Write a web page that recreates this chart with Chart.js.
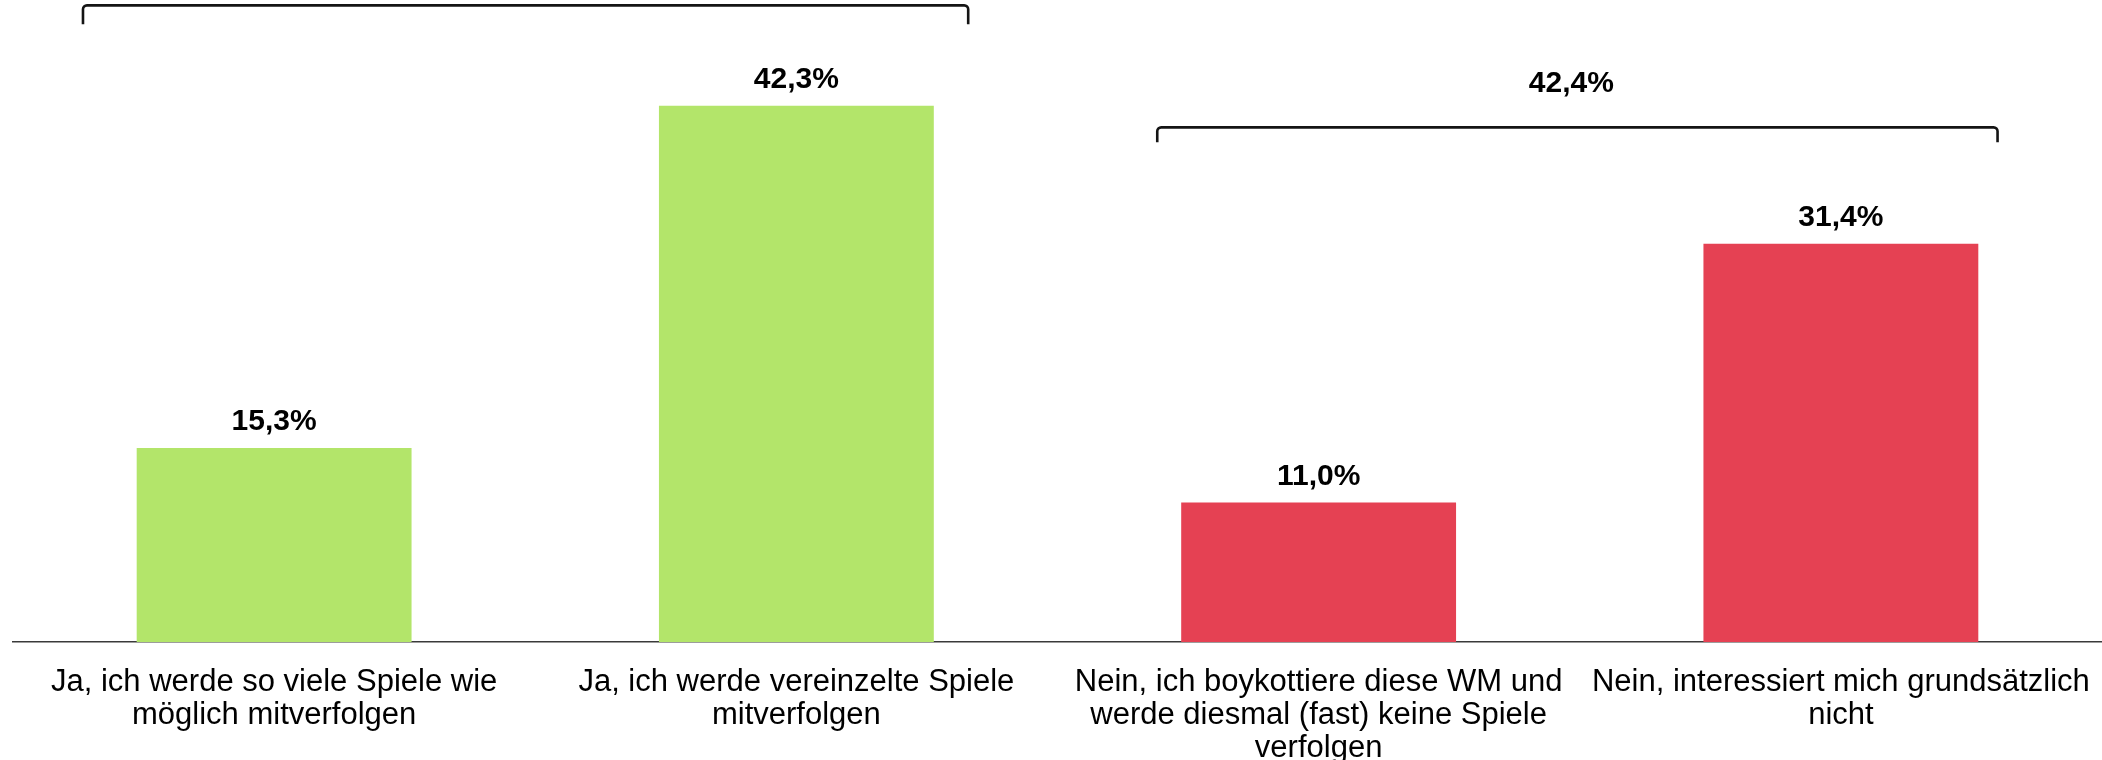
<!DOCTYPE html>
<html>
<head>
<meta charset="utf-8">
<script src="https://cdn.jsdelivr.net/npm/chart.js@4/dist/chart.umd.min.js"></script>
<style>
  html, body { margin: 0; padding: 0; background: #ffffff; overflow: hidden; }
  canvas { display: block; }
</style>
</head>
<body>
<canvas id="c" width="2102" height="760" style="width:2102px;height:760px"></canvas>
<script>
// ---- data ----
const categories = [
  ["Ja, ich werde so viele Spiele wie", "möglich mitverfolgen"],
  ["Ja, ich werde vereinzelte Spiele", "mitverfolgen"],
  ["Nein, ich boykottiere diese WM und", "werde diesmal (fast) keine Spiele", "verfolgen"],
  ["Nein, interessiert mich grundsätzlich", "nicht"]
];
const values = [15.3, 42.3, 11.0, 31.4];
const groupStart = [0, 2];
const groupEnd = [1, 3];

// ---- styles ----
const GREEN = '#B3E56A';
const RED = '#E54153';
const barColors = [GREEN, GREEN, RED, RED];
const FONT = '"Liberation Sans", Arial, Helvetica, sans-serif';
const bracketStyle = {
  leftFrac: [-0.366, -0.309],
  rightFrac: [0.329, 0.300],
  liftPx: [100.3, 116.5],
  tickPx: [19, 15],
  labelLiftPx: 43.5,
  labelDx: -6
};

function fmt(v) { return v.toFixed(1).replace('.', ',') + '%'; }

const overlay = {
  id: 'overlay',
  afterDatasetsDraw(chart) {
    const ctx = chart.ctx;
    const xs = chart.scales.x, ys = chart.scales.y;
    const meta = chart.getDatasetMeta(0);
    ctx.save();
    // value labels
    ctx.fillStyle = '#000';
    ctx.font = 'bold 30px ' + FONT;
    ctx.textAlign = 'center';
    ctx.textBaseline = 'alphabetic';
    meta.data.forEach((bar, i) => {
      ctx.fillText(fmt(values[i]), bar.x, bar.y - 17.5);
    });
    // brackets
    const step = xs.getPixelForValue(1) - xs.getPixelForValue(0);
    groupStart.forEach((s, g) => {
      const e = groupEnd[g];
      let maxV = 0, total = 0;
      for (let i = s; i <= e; i++) { maxV = Math.max(maxV, values[i]); total += values[i]; }
      const x1 = xs.getPixelForValue(s) + bracketStyle.leftFrac[g] * step;
      const x2 = xs.getPixelForValue(e) + bracketStyle.rightFrac[g] * step;
      const yTop = ys.getPixelForValue(maxV) - bracketStyle.liftPx[g];
      const yBot = yTop + bracketStyle.tickPx[g];
      const r = 4;
      ctx.strokeStyle = '#141414';
      ctx.lineWidth = 2.6;
      ctx.lineJoin = 'round';
      ctx.beginPath();
      ctx.moveTo(x1, yBot);
      ctx.arcTo(x1, yTop, x1 + r, yTop, r);
      ctx.lineTo(x2 - r, yTop);
      ctx.arcTo(x2, yTop, x2, yTop + r, r);
      ctx.lineTo(x2, yBot);
      ctx.stroke();
      ctx.fillStyle = '#000';
      ctx.font = 'bold 30px ' + FONT;
      ctx.textAlign = 'center';
      ctx.textBaseline = 'middle';
      ctx.fillText(fmt(Math.round(total * 10) / 10), (x1 + x2) / 2 + bracketStyle.labelDx, yTop - bracketStyle.labelLiftPx);
    });
    ctx.restore();
  }
};

new Chart(document.getElementById('c'), {
  type: 'bar',
  data: {
    labels: categories,
    datasets: [{
      data: values,
      backgroundColor: barColors,
      borderWidth: 0,
      categoryPercentage: 1,
      barPercentage: 0.5263
    }]
  },
  options: {
    responsive: false,
    maintainAspectRatio: false,
    animation: false,
    devicePixelRatio: 1,
    layout: { autoPadding: false, padding: { top: 8, left: 13, right: 0, bottom: 0 } },
    plugins: { legend: { display: false }, tooltip: { enabled: false } },
    scales: {
      x: {
        grid: { display: true, drawOnChartArea: false, drawTicks: true, tickLength: 24, color: 'rgba(0,0,0,0)' },
        border: { display: true, color: '#3a3a3a', width: 1.6 },
        ticks: {
          color: '#000',
          font: { family: FONT, size: 31, lineHeight: 1.07 },
          padding: 0,
          maxRotation: 0,
          autoSkip: false
        },
        afterFit(scale) { scale.height = 118; }
      },
      y: {
        display: false,
        min: 0,
        max: 50
      }
    }
  },
  plugins: [overlay]
});
</script>
</body>
</html>
